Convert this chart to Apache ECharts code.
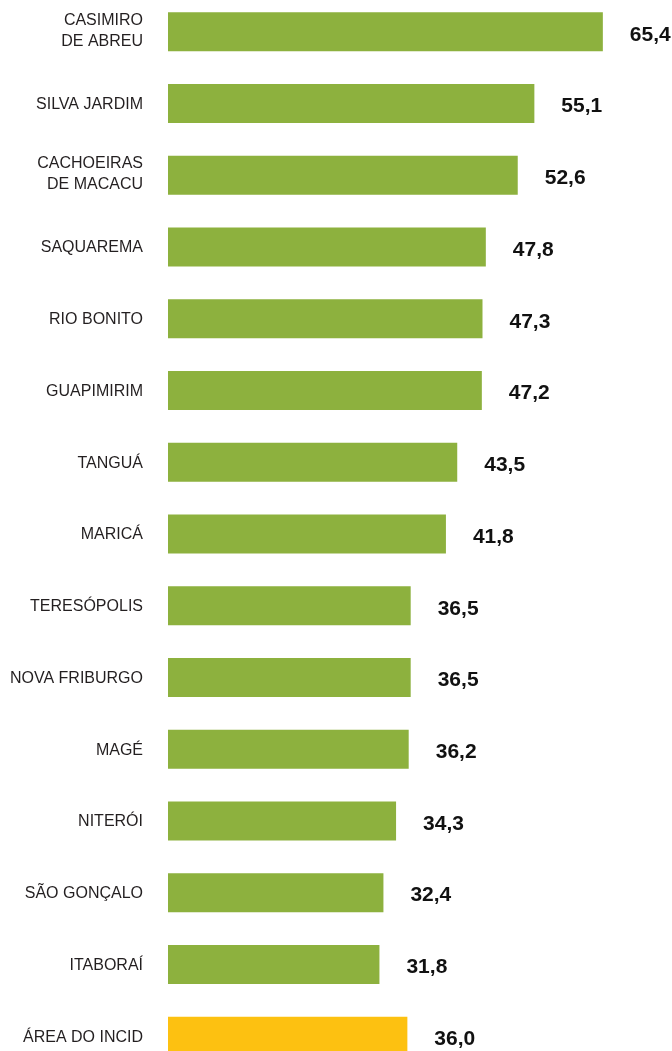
<!DOCTYPE html>
<html>
<head>
<meta charset="utf-8">
<style>
  html, body { margin: 0; padding: 0; background: #ffffff; overflow: hidden; }
  /* the plot's first band starts a few pixels above the page edge */
  #chart { position: absolute; left: 0; top: -4px; width: 672px; height: 1080px; }
</style>
<script src="https://cdn.jsdelivr.net/npm/echarts@6/dist/echarts.min.js"></script>
</head>
<body>
<div id="chart"></div>
<script>
// Municipalities, top to bottom
const categories = [
  'CASIMIRO\nDE ABREU',
  'SILVA JARDIM',
  'CACHOEIRAS\nDE MACACU',
  'SAQUAREMA',
  'RIO BONITO',
  'GUAPIMIRIM',
  'TANGUÁ',
  'MARICÁ',
  'TERESÓPOLIS',
  'NOVA FRIBURGO',
  'MAGÉ',
  'NITERÓI',
  'SÃO GONÇALO',
  'ITABORAÍ',
  'ÁREA DO INCID'
];

const values = [65.4, 55.1, 52.6, 47.8, 47.3, 47.2, 43.5, 41.8, 36.5, 36.5, 36.2, 34.3, 32.4, 31.8, 36.0];

// The last row is the regional aggregate, highlighted in yellow
const aggregateIndex = 14;

const GREEN = '#8db13e';
const YELLOW = '#fdc111';
const FONT = '"Liberation Sans", Arial, sans-serif';

const chart = echarts.init(document.getElementById('chart'), null, { renderer: 'canvas' });

chart.setOption({
  animation: false,
  backgroundColor: '#ffffff',
  grid: { left: 168, right: 0, top: 0, height: 1076, containLabel: false },
  xAxis: {
    type: 'value',
    min: 0,
    max: 75.8,
    show: false
  },
  yAxis: {
    type: 'category',
    inverse: true,
    data: categories,
    axisLine: { show: false },
    axisTick: { show: false },
    axisLabel: {
      margin: 25,
      color: '#231f20',
      fontFamily: FONT,
      fontSize: 16,
      verticalAlign: 'middle',
      // two-line names sit a little higher than single-line ones
      formatter: v => v.indexOf('\n') >= 0
        ? '{two|' + v.split('\n').join('}\n{two|') + '}'
        : '{one|' + v + '}',
      rich: {
        one: {
          fontFamily: FONT,
          fontSize: 16,
          color: '#231f20',
          padding: [2, 0, 0, 0]
        },
        two: {
          fontFamily: FONT,
          fontSize: 16,
          color: '#231f20',
          lineHeight: 21,
          padding: [0, 0, 2, 0]
        }
      }
    }
  },
  series: [{
    type: 'bar',
    barWidth: 39,
    data: values.map((v, i) => ({
      value: v,
      itemStyle: { color: i === aggregateIndex ? YELLOW : GREEN }
    })),
    label: {
      show: true,
      position: 'right',
      distance: 27,
      offset: [0, 3],
      color: '#111111',
      fontFamily: FONT,
      fontWeight: 'bold',
      fontSize: 21,
      formatter: p => p.value.toFixed(1).replace('.', ',')
    }
  }]
});
</script>
</body>
</html>
